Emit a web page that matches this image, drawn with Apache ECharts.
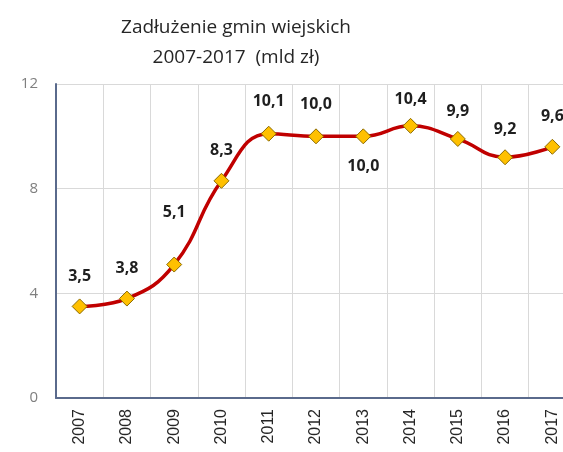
<!DOCTYPE html>
<html>
<head>
<meta charset="utf-8">
<script src="https://cdn.jsdelivr.net/npm/echarts@6/dist/echarts.min.js"></script>
<style>
html,body{margin:0;padding:0;background:#fff;}
#zadluzenie{width:563px;height:452px;}
</style>
</head>
<body>
<div id="zadluzenie"></div>
<script>
var lata = ['2007','2008','2009','2010','2011','2012','2013','2014','2015','2016','2017'];
var dlug = [3.5, 3.8, 5.1, 8.3, 10.1, 10.0, 10.0, 10.4, 9.9, 9.2, 9.6];
var yTicks = [0, 4, 8, 12];

// where the value label sits for each point (2013 goes below)
var labelPoz = ['top','top','top','top','top','top','bottom','top','top','top','top'];
var labelDyst = [14, 14, 36, 14, 16, 16, 14, 10, 12, 12, 14];

var chart = echarts.init(document.getElementById('zadluzenie'));

var punkty = [];
for (var i = 0; i < dlug.length; i++) {
  punkty.push({
    value: dlug[i],
    label: { position: labelPoz[i], distance: labelDyst[i] }
  });
}

chart.setOption({
  title: {
    text: 'Zadłużenie gmin wiejskich\n2007-2017  (mld zł)',
    left: 231,
    top: 8,
    textAlign: 'center',
    textStyle: {
      color: '#262626',
      fontFamily: 'Open Sans',
      fontWeight: 'normal',
      fontSize: 19,
      lineHeight: 30
    }
  },
  grid: {
    left: 56,
    width: 520,
    top: 84,
    bottom: 54,
    outerBoundsMode: 'none'
  },
  xAxis: {
    type: 'category',
    data: lata,
    boundaryGap: true,
    axisLine: { lineStyle: { color: '#5a6a8c', width: 2 } },
    axisTick: { show: false },
    axisLabel: {
      rotate: 90,
      color: '#262626',
      fontFamily: 'Liberation Sans',
      fontSize: 16,
      margin: 11
    },
    splitLine: { show: true, interval: 0, lineStyle: { color: '#d9d9d9', width: 1 } }
  },
  yAxis: {
    type: 'value',
    min: yTicks[0],
    max: yTicks[yTicks.length - 1],
    interval: 4,
    axisLine: { show: true, lineStyle: { color: '#5a6a8c', width: 2 } },
    axisTick: { show: false },
    axisLabel: {
      color: '#7f7f7f',
      fontFamily: 'Open Sans',
      fontSize: 15,
      margin: 18
    },
    splitLine: { lineStyle: { color: '#d9d9d9', width: 1 } }
  },
  series: [{
    type: 'line',
    data: punkty,
    smooth: 0.45,
    symbol: 'diamond',
    symbolSize: 15,
    lineStyle: { color: '#c00000', width: 3.5 },
    itemStyle: { color: '#ffc000', borderColor: '#8a6a00', borderWidth: 1 },
    label: {
      show: true,
      color: '#1f1f1f',
      fontFamily: 'Open Sans',
      fontWeight: 'bold',
      fontSize: 16,
      formatter: function (p) { return p.value.toFixed(1).replace('.', ','); }
    },
    z: 3
  }]
});
</script>
</body>
</html>
